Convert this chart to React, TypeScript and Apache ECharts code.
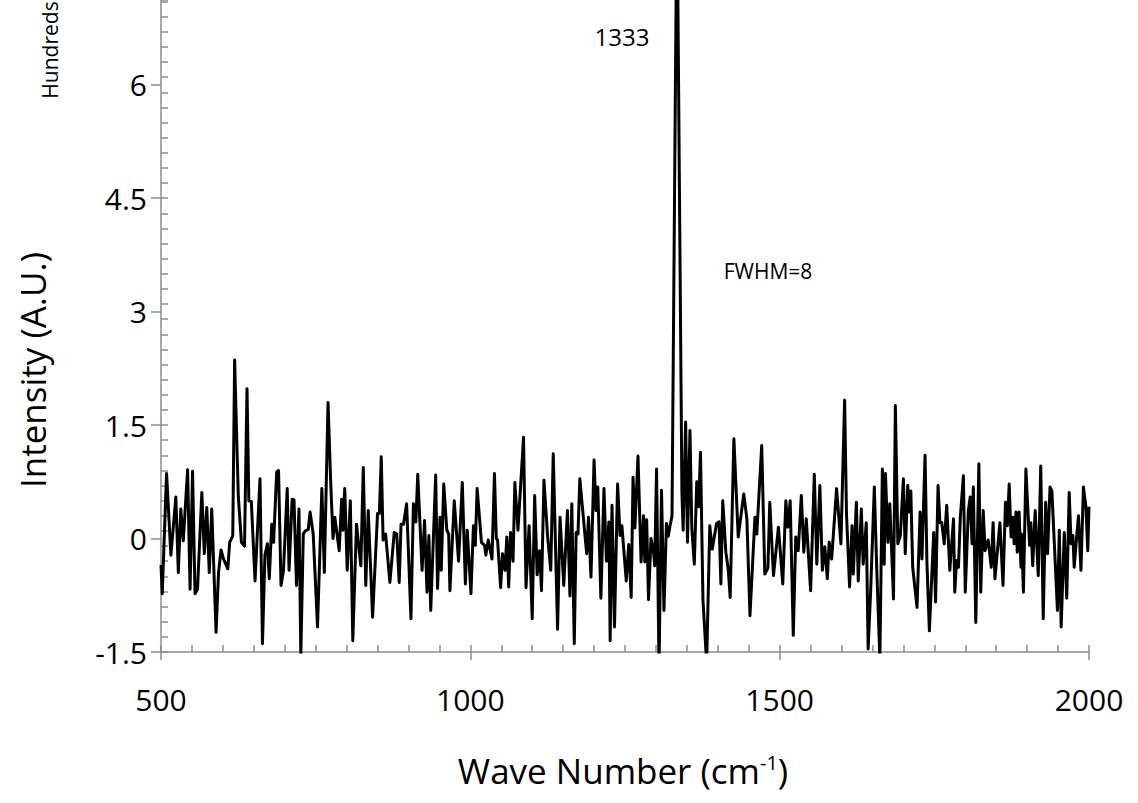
import React, { useEffect, useRef } from "react";
import * as echarts from "echarts";

// Wave numbers (cm^-1) of the spectrum vertices
const wavenumbers: number[] = [
  500, 502, 509, 516, 524, 528, 532, 536, 543, 547, 551, 555, 559, 566, 570, 574, 578, 582, 589, 593,
  597, 601, 608, 611, 616, 619, 625, 630, 635, 639,
  642, 646, 652, 660, 664, 668, 672, 675, 679, 682, 687, 690, 694, 698, 704, 707, 712, 715, 719, 723,
  726, 730, 733, 738, 741, 746, 753, 760, 764, 770, 774, 778, 781, 788, 792,
  794, 797, 801, 806, 810, 816, 823, 827, 831, 835, 842, 850, 853, 856, 859, 863, 870, 877, 881, 885,
  888, 892, 897, 904, 908, 912, 915, 922, 926, 930, 933, 936, 944, 947, 951,
  953, 957, 962, 965, 967, 974, 981, 987, 992, 995, 1001, 1005, 1008, 1011, 1018, 1023, 1025, 1029, 1035, 1039,
  1042, 1044, 1049, 1052, 1056, 1059, 1062, 1065, 1069, 1072, 1077, 1086, 1090, 1095, 1100, 1104,
  1108, 1112, 1115, 1119, 1125, 1130, 1134, 1141, 1145, 1151, 1157, 1161, 1164, 1168, 1171, 1174, 1177, 1188, 1191, 1195,
  1200, 1203, 1206, 1211, 1216, 1220, 1224, 1226, 1229, 1233, 1238, 1242, 1245, 1252,
  1256, 1260, 1263, 1266, 1271, 1276, 1280, 1282, 1285, 1288, 1292, 1296, 1298, 1301, 1305, 1309, 1313, 1317, 1320, 1323,
  1326, 1334, 1342, 1344, 1348, 1351, 1355, 1358, 1362, 1366, 1369, 1372, 1376, 1382, 1387, 1391, 1398, 1402,
  1405, 1408, 1413, 1417, 1420, 1426, 1433, 1442, 1447, 1452, 1460, 1463, 1471, 1476, 1481, 1484, 1490, 1498, 1505, 1510,
  1513, 1517, 1522, 1526, 1530, 1535, 1539, 1543, 1550, 1556, 1560, 1565,
  1569, 1573, 1577, 1580, 1584, 1592, 1599, 1605, 1608, 1613, 1617, 1619, 1624, 1627, 1632, 1635, 1640, 1643, 1647, 1653,
  1657, 1662, 1666, 1669, 1671, 1675, 1678, 1684, 1687, 1691, 1695, 1700, 1703, 1707, 1710, 1712,
  1715, 1722, 1727, 1730, 1735, 1738, 1742, 1749, 1752, 1756, 1759, 1762, 1766, 1770, 1775, 1781, 1783, 1786, 1789, 1792,
  1797, 1800, 1805, 1808, 1811, 1813, 1817, 1822, 1825, 1829, 1832, 1837, 1842, 1845, 1848, 1856,
  1861, 1865, 1868, 1871, 1874, 1877, 1879, 1882, 1884, 1887, 1890, 1891, 1894, 1898, 1904, 1906, 1909, 1913, 1918, 1922,
  1926, 1930, 1933, 1937, 1940, 1949, 1952, 1955, 1960, 1964, 1968, 1971, 1974, 1976, 1980, 1983, 1987, 1991, 1995, 1998, 2000,
];

// Intensity (hundreds, A.U.) at each vertex
const intensity: number[] = [
  -0.35, -0.73, 0.86, -0.22, 0.55, -0.45, 0.39, -0.03, 0.91, -0.67, 0.89, -0.73, -0.67, 0.61, -0.2, 0.41, -0.45, 0.39, -1.24, -0.45,
  -0.15, -0.27, -0.4, -0.05, 0.04, 2.36, 0.55, -0.05, -0.1, 1.98,
  0.5, 0.49, -0.56, 0.79, -1.39, -0.22, -0.07, -0.53, 0.19, -0.05, 0.88, 0.9, -0.62, -0.42, 0.66, -0.42, 0.52, 0.51, -0.62, 0.39,
  -1.55, 0.06, 0.1, 0.12, 0.35, 0.06, -1.17, 0.66, -0.45, 1.8, 0.81, 0.0, 0.28, -0.16, 0.52,
  0.11, 0.66, -0.42, 0.5, -1.35, 0.19, -0.36, 0.94, -0.62, 0.37, -1.04, 0.33, 0.33, 1.08, -0.02, 0.06, -0.58, 0.08, 0.06, -0.58,
  0.19, 0.19, 0.46, -1.06, 0.46, 0.22, 0.85, -0.42, 0.24, -0.71, 0.04, -0.95, 0.84, -0.66, 0.28,
  -0.42, 0.72, 0.11, 0.06, -0.69, 0.5, -0.3, 0.74, -0.6, 0.11, -0.73, 0.17, -0.09, 0.66, -0.05, -0.09, -0.22, -0.02, -0.27, 0.86,
  0.0, -0.02, -0.65, -0.2, -0.42, 0.02, -0.64, 0.08, -0.3, 0.74, 0.11, 1.34, -0.65, 0.17, -1.06, 0.57,
  -0.48, -0.16, -0.69, 0.77, 0.02, -0.42, 1.12, -1.2, 0.28, -0.62, 0.37, -0.76, 0.46, -1.39, 0.08, 0.06, 0.79, -0.2, 0.28, -0.51,
  1.04, 0.37, 0.68, -0.79, 0.66, -0.3, 0.22, -1.35, 0.44, -1.17, 0.72, 0.04, 0.17, -0.56,
  -0.08, -0.78, 0.81, 0.14, 1.09, -0.31, 0.3, -0.31, 0.25, -0.81, 0.0, -0.17, -0.36, 0.92, -1.7, 0.64, -0.95, 0.2, 0.03, 0.18,
  0.3, 8.6, 0.61, 0.11, 1.54, -0.05, 1.43, 0.14, -0.34, 0.75, 0.42, 1.14, -0.81, -1.65, 0.17, -0.14, 0.2, 0.22,
  -0.6, 0.5, -0.18, -0.42, -0.78, 1.32, 0.02, 0.59, 0.26, -1.02, 0.28, 0.06, 1.23, -0.47, -0.39, 0.48, -0.49, 0.15, -0.6, 0.5,
  0.15, 0.5, -1.28, 0.02, -0.16, 0.57, -0.18, 0.26, -0.69, 0.85, -0.34, 0.7,
  -0.42, -0.11, -0.53, -0.05, -0.27, 0.66, -0.07, 1.83, 0.33, -0.64, 0.17, -0.47, 0.48, -0.56, 0.39, -0.34, 0.21, -1.46, -0.71, 0.68,
  -0.42, -1.6, 0.92, -0.34, 0.86, -0.05, 0.46, -0.8, 1.76, -0.07, 0.04, 0.79, -0.2, 0.7, 0.35, 0.63,
  -0.38, -0.91, 0.35, -0.27, 1.1, -0.31, -1.22, 0.08, -0.84, 0.7, 0.21, 0.21, -0.07, 0.44, -0.42, 0.26, -0.71, -0.29, -0.38, 0.28,
  0.83, -0.71, 0.37, 0.55, -0.07, 0.68, -1.11, 0.99, -0.71, 0.37, -0.16, -0.02, -0.38, 0.21, -0.53, 0.21,
  -0.62, 0.48, 0.17, 0.72, 0.02, 0.28, -0.07, 0.35, -0.18, 0.35, -0.38, 0.06, -0.71, 0.92, -0.09, 0.21, -0.36, 0.37, -0.49, 0.96,
  -1.06, 0.48, -0.2, 0.68, 0.63, -0.95, 0.11, -1.17, 0.08, -0.79, 0.61, -0.07, 0.04, -0.38, 0.02, 0.3, -0.42, 0.68, 0.42, -0.16, 0.42,
];

const xTitle = "Wave Number (cm";
const xTitleSup = "-1";
const yTitle = "Intensity (A.U.)";
const yUnit = "Hundreds";
const peakLabel = "1333";
const fwhmLabel = "FWHM=8";

const FONT = "Open Sans";
const AXIS_GRAY = "#8c8c8c";

export default function App() {
  const ref = useRef<HTMLDivElement>(null);

  useEffect(() => {
    if (!ref.current) return;
    const chart = echarts.init(ref.current, undefined, { renderer: "svg" });
    const seriesData = wavenumbers.map((w, i) => [w, intensity[i]]);
    const yMin = -1.5;
    const yMax = 7.12;

    chart.setOption({
      animation: false,
      backgroundColor: "#ffffff",
      grid: { left: 161, right: 49, top: 0, bottom: 151, containLabel: false },
      xAxis: [
        {
          type: "value",
          min: 500,
          max: 2000,
          interval: 500,
          position: "bottom",
          axisLine: { show: true, onZero: false, lineStyle: { color: AXIS_GRAY, width: 1.5 } },
          axisTick: { show: true, inside: false, length: 8, lineStyle: { color: AXIS_GRAY, width: 1.5 } },
          axisLabel: {
            show: true,
            margin: 32,
            fontSize: 30,
            fontFamily: FONT,
            color: "#000",
            formatter: (v: number) => String(v),
          },
          splitLine: { show: false },
        },
        {
          type: "value",
          min: 500,
          max: 2000,
          interval: 50,
          position: "bottom",
          axisLine: { show: false, onZero: false },
          axisTick: { show: true, inside: true, length: 7, lineStyle: { color: AXIS_GRAY, width: 1.5 } },
          axisLabel: { show: false },
          splitLine: { show: false },
        },
      ],
      yAxis: [
        {
          type: "value",
          min: yMin,
          max: yMax,
          interval: 1.5,
          position: "left",
          axisLine: { show: true, onZero: false, lineStyle: { color: AXIS_GRAY, width: 1.5 } },
          axisTick: { show: true, inside: false, length: 10, lineStyle: { color: AXIS_GRAY, width: 1.5 } },
          axisLabel: {
            show: true,
            margin: 14,
            fontSize: 30,
            fontFamily: FONT,
            color: "#000",
            showMaxLabel: false,
            formatter: (v: number) => {
              const r = Math.round(v * 10) / 10;
              return Math.abs(r / 1.5 - Math.round(r / 1.5)) < 1e-6 ? String(r) : "";
            },
          },
          splitLine: { show: false },
        },
        {
          type: "value",
          min: 0,
          max: yMax - yMin,
          interval: 0.2,
          position: "left",
          axisLine: { show: false, onZero: false },
          axisTick: { show: true, inside: true, length: 7, lineStyle: { color: AXIS_GRAY, width: 1.5 } },
          axisLabel: { show: false },
          splitLine: { show: false },
        },
      ],
      series: [
        {
          type: "line",
          xAxisIndex: 0,
          yAxisIndex: 0,
          data: seriesData,
          showSymbol: false,
          symbol: "none",
          clip: true,
          lineStyle: { color: "#000000", width: 3, join: "round" },
          silent: true,
        },
      ],
      graphic: [
        {
          type: "text",
          x: 623,
          y: 770,
          style: {
            text: `{a|${xTitle}}{b|${xTitleSup}}{a|)}`,
            align: "center",
            verticalAlign: "middle",
            fill: "#000",
            rich: {
              a: { fontSize: 35, fontFamily: FONT, fill: "#000", verticalAlign: "bottom" },
              b: { fontSize: 20, fontFamily: FONT, fill: "#000", verticalAlign: "top" },
            },
          },
        },
        {
          type: "text",
          x: 32,
          y: 370,
          rotation: Math.PI / 2,
          style: {
            text: yTitle,
            align: "center",
            verticalAlign: "middle",
            fontSize: 35,
            fontFamily: FONT,
            fill: "#000",
          },
        },
        {
          type: "text",
          x: 50,
          y: 50,
          rotation: Math.PI / 2,
          style: {
            text: yUnit,
            align: "center",
            verticalAlign: "middle",
            fontSize: 21,
            fontFamily: FONT,
            fill: "#000",
          },
        },
        {
          type: "text",
          x: 622,
          y: 36,
          style: {
            text: peakLabel,
            align: "center",
            verticalAlign: "middle",
            fontSize: 24,
            fontFamily: FONT,
            fill: "#000",
          },
        },
        {
          type: "text",
          x: 768,
          y: 271,
          style: {
            text: fwhmLabel,
            align: "center",
            verticalAlign: "middle",
            fontSize: 21,
            fontFamily: FONT,
            fill: "#000",
          },
        },
      ],
    });

    return () => {
      chart.dispose();
    };
  }, []);

  return (
    <div
      ref={ref}
      style={{ position: "fixed", left: 0, top: 0, width: 1138, height: 803, background: "#fff" }}
    />
  );
}
